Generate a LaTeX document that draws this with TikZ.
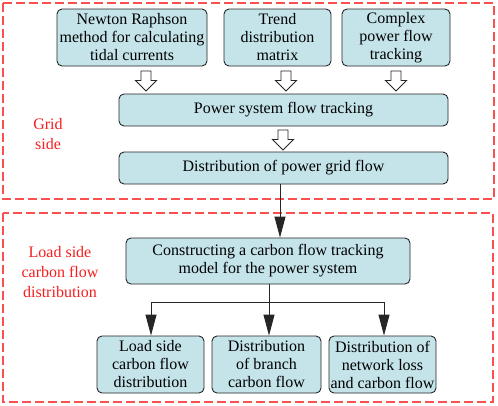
\documentclass[tikz,border=0pt]{standalone}
\usepackage{fontspec}
\setmainfont{Liberation Serif}
\usetikzlibrary{arrows.meta,calc}
\definecolor{boxfill}{RGB}{196,228,234}
\definecolor{zonered}{RGB}{250,80,80}
\definecolor{labelred}{RGB}{245,30,30}
\tikzset{
  stepbox/.style={draw=black!85, fill=boxfill, rounded corners=5pt, line width=0.9pt,
    align=center, inner sep=0pt, font=\fontsize{16}{18}\selectfont},
  zone/.style={draw=zonered, line width=1.2pt, dash pattern=on 9pt off 4pt},
  zonelabel/.style={text=labelred, align=center, font=\fontsize{16}{20}\selectfont},
  link/.style={draw=black!85, line width=0.9pt},
  linkarrow/.style={link, -{Triangle[length=21pt,width=11pt]}},
  hollow/.pic={\draw[black!85, line width=0.9pt, fill=white]
     (-5,0) -- (5,0) -- (5,9.5) -- (10.5,9.5) -- (0,20) -- (-10.5,9.5) -- (-5,9.5) -- cycle;}
}
\begin{document}
\begin{tikzpicture}[x=1pt,y=-1pt]
\useasboundingbox (0,0) rectangle (498,405);
% zones
\draw[zone] (3,3) rectangle (494,199);
\draw[zone] (3,213) rectangle (493,402);
\node[zonelabel] (gridlbl) at (48,134) {Grid\\side};
\node[zonelabel] (loadlbl) at (60,272) {Load side\\carbon flow\\distribution};
% top row
\node[stepbox, minimum width=150pt, minimum height=57pt] (newton) at (132,37.5) {Newton Raphson\\method for calculating\\tidal currents};
\node[stepbox, minimum width=107pt, minimum height=57pt] (trend) at (277.5,37.5) {Trend\\distribution\\matrix};
\node[stepbox, minimum width=108pt, minimum height=57pt] (complex) at (396,37.5) {Complex\\power flow\\tracking};
\node[stepbox, minimum width=329pt, minimum height=32pt] (psft) at (283.5,110) {Power system flow tracking};
\node[stepbox, minimum width=329pt, minimum height=32pt] (dpgf) at (283.5,168) {Distribution of power grid flow};
\node[stepbox, minimum width=284pt, minimum height=46pt] (model) at (268,261) {Constructing a carbon flow tracking\\model for the power system};
\node[stepbox, minimum width=107pt, minimum height=57pt] (load) at (150.5,364.5) {Load side\\carbon flow\\distribution};
\node[stepbox, minimum width=109pt, minimum height=57pt] (branch) at (266.5,364.5) {Distribution\\of branch\\carbon flow};
\node[stepbox, minimum width=107pt, minimum height=57pt] (network) at (382.5,364.5) {Distribution of\\network loss\\and carbon flow};
% hollow arrows
\pic at (146,71) {hollow};
\pic at (286,71) {hollow};
\pic at (396,71) {hollow};
\pic at (283,130) {hollow};
% connectors
\coordinate (c1) at (280,0);
\draw[linkarrow] (dpgf.south -| c1) -- (model.north -| c1);
\coordinate (split) at (269,302);
\coordinate (sl) at (151,302);
\coordinate (sr) at (384,302);
\draw[link] (model.south -| split) -- (split);
\draw[link] (sl) -- (sr);
\draw[linkarrow] (sl) -- (load.north -| sl);
\draw[linkarrow] (split) -- (branch.north -| split);
\draw[linkarrow] (sr) -- (network.north -| sr);
\end{tikzpicture}
\end{document}
